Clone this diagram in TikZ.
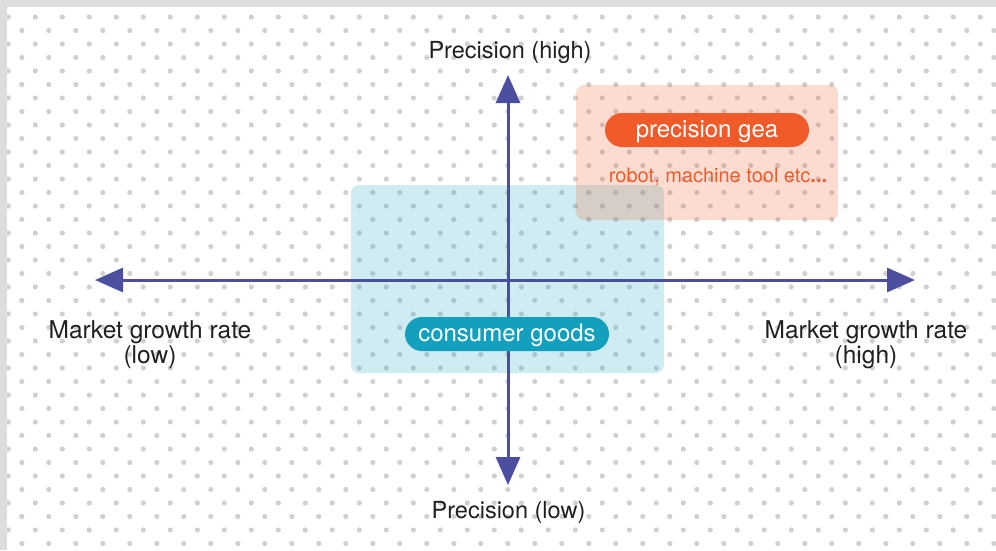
\documentclass[tikz,border=0pt]{standalone}
\usepackage{fontspec}
\setmainfont{TeX Gyre Heros}
\usetikzlibrary{arrows.meta}
\definecolor{axiscol}{RGB}{76,78,160}
\definecolor{dotcol}{RGB}{208,208,210}
\definecolor{framecol}{RGB}{220,221,223}
\definecolor{orangecol}{RGB}{241,90,41}
\definecolor{tealcol}{RGB}{18,160,190}
\definecolor{textcol}{RGB}{35,31,32}
\tikzset{
  axis/.style={draw=axiscol, line width=3pt,
    {Triangle[length=28pt,width=24pt]}-{Triangle[length=28pt,width=24pt]}},
  pill/.style={rounded corners=17pt, minimum width=204pt, minimum height=34pt,
    inner sep=0pt, text=white, text height=15.5pt, text depth=0pt,
    font=\fontsize{24}{28}\selectfont},
  region/.style={rounded corners=8pt},
  axislabel/.style={text=textcol, inner sep=0pt, anchor=base, align=center},
}
\begin{document}
\begin{tikzpicture}[x=1pt,y=-1pt]
\useasboundingbox (0,0) rectangle (996,550);
\clip (0,0) rectangle (996,550);
\fill[white] (0,0) rectangle (996,550);
% dot pattern
\foreach \i in {0,...,37}{
  \foreach \j in {0,...,20}{
    \fill[dotcol] (8.3+27*\i, 17+27*\j) circle[radius=2.6pt];
    \fill[dotcol] (21.8+27*\i, 3.5+27*\j) circle[radius=2.6pt];
  }
}
% frame
\fill[framecol] (0,0) rectangle (996,7);
\fill[framecol] (0,0) rectangle (7,550);
% regions
\fill[region, tealcol, opacity=0.2] (351,185) rectangle (664,373);
\fill[region, orangecol, opacity=0.21] (576,85) rectangle (838,220);
% axes
\coordinate (left) at (95,280);
\coordinate (right) at (915,280);
\coordinate (top) at (508,75);
\coordinate (bottom) at (508,485);
\draw[axis] (left) -- (right);
\draw[axis] (bottom) -- (top);
% labels
\node[pill, fill=orangecol] (pg) at (707,130) {precision gea};
\node[text=orangecol, inner sep=0pt, anchor=base, font=\fontsize{20}{22}\selectfont] (rb) at (718,182) {robot, machine tool etc\textbf{...}};
\node[pill, fill=tealcol] (cg) at (507,334) {consumer goods};
\node[axislabel, font=\fontsize{23.5}{25}\selectfont] (ph) at (510,58) {Precision (high)};
\node[axislabel, font=\fontsize{23.5}{25}\selectfont] (pl) at (508.5,518) {Precision (low)};
\node[axislabel, font=\fontsize{24.5}{25}\selectfont] (ml) at (150,363) {Market growth rate\\(low)};
\node[axislabel, font=\fontsize{24.5}{25}\selectfont] (mh) at (866,363) {Market growth rate\\(high)};
\end{tikzpicture}
\end{document}
